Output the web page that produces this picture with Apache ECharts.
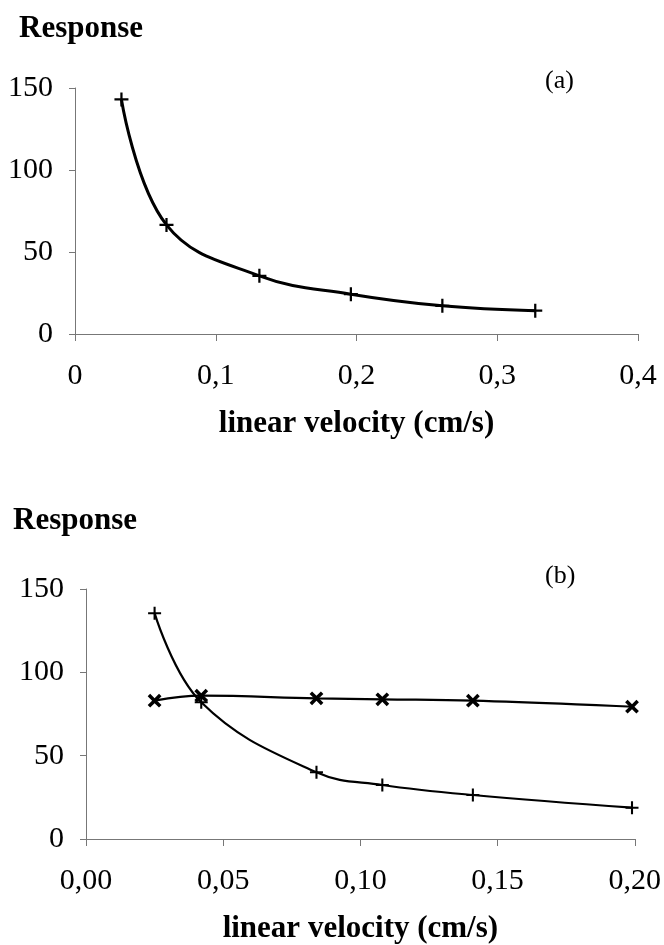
<!DOCTYPE html>
<html><head><meta charset="utf-8">
<script src="https://cdn.jsdelivr.net/npm/echarts@6/dist/echarts.min.js"></script>
<style>html,body{margin:0;padding:0;background:#fff}#c{width:664px;height:945px}</style>
</head><body><div id="c"></div>
<script>
// Panel (a)
const velocityA = [0.033, 0.065, 0.131, 0.196, 0.261, 0.327];
const responseA = [143, 66.5, 35.5, 24.3, 17.2, 14.2];
const xTickLabelsA = ['0', '0,1', '0,2', '0,3', '0,4'];
// Panel (b)
const velocityB = [0.025, 0.042, 0.084, 0.108, 0.141, 0.199];
const responseBPlus = [135.5, 82, 40, 32.4, 26.4, 18.8];
const responseBCross = [83, 86, 84.4, 83.8, 83, 79.4];
const xTickLabelsB = ['0,00', '0,05', '0,10', '0,15', '0,20'];
const yTickLabels = ['0', '50', '100', '150'];

const FONT = 'Liberation Serif';
const PLUS = 'path://M4.2,0h1.6v4.2h4.2v1.6h-4.2v4.2h-1.6v-4.2h-4.2v-1.6h4.2z';
const CROSS = 'path://M3.9,0h2.2v3.9h3.9v2.2h-3.9v3.9h-2.2v-3.9h-3.9v-2.2h3.9z';

function pairs(xs, ys) { return xs.map((x, i) => [x, ys[i]]); }

const axisLine = { show: true, lineStyle: { color: '#777', width: 1 } };
const axisTick = { show: true, inside: false, length: 7, lineStyle: { color: '#777', width: 1 } };

function xAxis(gi, max, interval, labels) {
  return {
    type: 'value', gridIndex: gi, min: 0, max: max, interval: interval,
    axisLine: axisLine, axisTick: axisTick, splitLine: { show: false },
    axisLabel: { fontFamily: FONT, fontSize: 30, color: '#000', margin: 27,
      formatter: v => labels[Math.round(v / interval)] },
    name: 'linear velocity (cm/s)', nameLocation: 'middle', nameGap: 74,
    nameTextStyle: { fontFamily: FONT, fontSize: 31, fontWeight: 'bold', color: '#000' }
  };
}
function yAxis(gi) {
  return {
    type: 'value', gridIndex: gi, min: 0, max: 150, interval: 50,
    axisLine: axisLine, axisTick: Object.assign({}, axisTick, { length: 6 }),
    splitLine: { show: false },
    axisLabel: { fontFamily: FONT, fontSize: 30, color: '#000', margin: 22,
      formatter: v => yTickLabels[Math.round(v / 50)] }
  };
}

const chart = echarts.init(document.getElementById('c'), null, { renderer: 'canvas' });
chart.setOption({
  animation: false,
  backgroundColor: '#fff',
  grid: [
    { left: 75, right: 26, top: 88, height: 246 },
    { left: 86, right: 24, top: 589, height: 250 }
  ],
  xAxis: [xAxis(0, 0.4, 0.1, xTickLabelsA), xAxis(1, 0.2, 0.05, xTickLabelsB)],
  yAxis: [yAxis(0), yAxis(1)],
  graphic: [
    { type: 'text', left: 19, top: 13, style: { text: 'Response', fontFamily: FONT, fontSize: 31, fontWeight: 'bold', fill: '#000' } },
    { type: 'text', left: 13, top: 505, style: { text: 'Response', fontFamily: FONT, fontSize: 31, fontWeight: 'bold', fill: '#000' } },
    { type: 'text', left: 545, top: 68, style: { text: '(a)', fontFamily: FONT, fontSize: 26, fill: '#000' } },
    { type: 'text', left: 545, top: 563, style: { text: '(b)', fontFamily: FONT, fontSize: 26, fill: '#000' } }
  ],
  series: [
    { type: 'line', xAxisIndex: 0, yAxisIndex: 0, data: pairs(velocityA, responseA),
      smooth: 0.4, symbol: PLUS, symbolSize: 14, lineStyle: { color: '#000', width: 3 },
      itemStyle: { color: '#000' } },
    { type: 'line', xAxisIndex: 1, yAxisIndex: 1, data: pairs(velocityB, responseBPlus),
      smooth: 0.4, symbol: PLUS, symbolSize: 13, lineStyle: { color: '#000', width: 2.2 },
      itemStyle: { color: '#000' } },
    { type: 'line', xAxisIndex: 1, yAxisIndex: 1, data: pairs(velocityB, responseBCross),
      smooth: 0.4, symbol: CROSS, symbolSize: 16, symbolRotate: 45, lineStyle: { color: '#000', width: 2.2 },
      itemStyle: { color: '#000' } }
  ]
});
</script>
</body></html>
